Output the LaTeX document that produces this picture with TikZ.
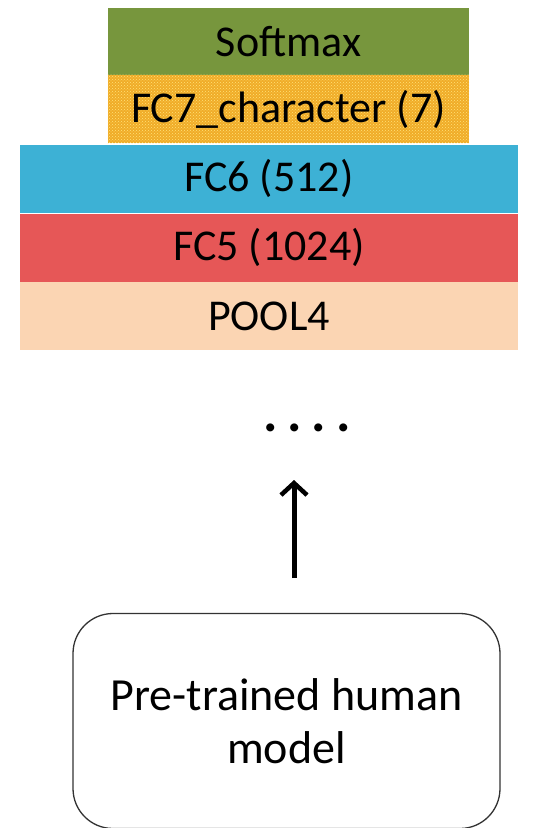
\documentclass[tikz,border=0pt]{standalone}
\usepackage{fontspec}
\setmainfont{Carlito}
\usetikzlibrary{arrows.meta,patterns}
\definecolor{cgreen}{RGB}{119,150,61}
\definecolor{corange}{RGB}{240,172,40}
\definecolor{cdot}{RGB}{255,226,120}
\definecolor{cblue}{RGB}{61,177,213}
\definecolor{cred}{RGB}{230,87,87}
\definecolor{cpeach}{RGB}{251,213,179}
\tikzset{
  layer/.style={draw=none, minimum height=68pt, inner sep=0pt, font=\fontsize{44}{52}\selectfont},
  narrow/.style={layer, minimum width=361pt},
  wide/.style={layer, minimum width=498pt},
  modelbox/.style={draw=black!80, line width=1.3pt, rounded corners=40pt, minimum width=427pt, minimum height=215pt, align=center, font=\fontsize{46}{53}\selectfont},
  uparrow/.style={line width=5pt, -{Straight Barb[length=12pt,width=26pt,line width=4.5pt]}}
}
\begin{document}
\begin{tikzpicture}[x=1pt,y=-1pt]
\useasboundingbox (0,0) rectangle (543,828);
\node[narrow, fill=cgreen] (soft) at (288.5,42) {Softmax};
\node[narrow, fill=corange] (fc7) at (288.5,109) {};
\fill[pattern=crosshatch dots, pattern color=cdot] (fc7.south west) rectangle (fc7.north east);
\node[layer] at (fc7) {FC7\_character (7)};
\node[wide, fill=cblue] (fc6) at (269,178.5) {FC6 (512)};
\node[wide, fill=cred] (fc5) at (269,247.5) {FC5 (1024)};
\node[wide, fill=cpeach] (pool) at (269,316) {POOL4};
\node[font=\fontsize{54}{60}\bfseries\selectfont, inner sep=0pt] (dots) at (307,428) {.\hspace{10pt}.\hspace{10pt}.\hspace{10pt}.};
\node[modelbox] (model) at (286.5,721) {Pre-trained human\\model};
\coordinate (astart) at (294,578);
\coordinate (aend) at (294,480);
\draw[uparrow] (astart) -- (aend);
\end{tikzpicture}
\end{document}
